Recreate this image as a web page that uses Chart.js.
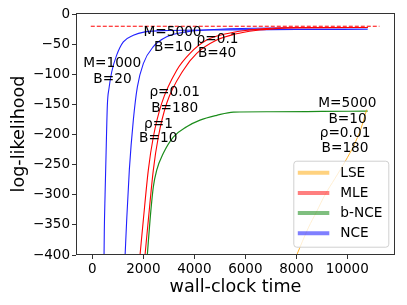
<!DOCTYPE html>
<html>
<head>
<meta charset="utf-8">
<script src="https://cdn.jsdelivr.net/npm/chart.js@4/dist/chart.umd.min.js"></script>
<style>
  html, body { margin: 0; padding: 0; background: #fff; }
  #wrap { width: 407px; height: 305px; position: relative; }
</style>
</head>
<body>
<div id="wrap"><canvas id="c" width="407" height="305"></canvas></div>
<script>
// ---------- data ----------
const xTicks = [0, 2000, 4000, 6000, 8000, 10000];
const yTicks = [0, -50, -100, -150, -200, -250, -300, -350, -400];

// NCE, M=1000 B=20
const nce1T = [460, 470, 500, 540, 590, 655, 760, 955, 1216, 1608, 2066, 3000, 5000, 8000, 10800];
const nce1Y = [-400, -360, -300, -230, -151, -123, -96, -68, -46, -35, -29.3, -27, -26, -25.5, -25];
// NCE, M=5000 B=10
const nce2T = [1286, 1348, 1451, 1608, 1765, 2000, 2392, 2917, 3700, 5000, 7000, 10800];
const nce2Y = [-400, -342, -259, -176, -121, -82, -54, -37.6, -29.3, -25, -23, -22.5];
// MLE, rho=1 B=10
const mle1T = [1871, 2000, 2196, 2392, 2720, 3310, 3830, 4486, 5200, 6000, 6800, 7600, 10800];
const mle1Y = [-400, -342, -259, -204, -148, -93, -65, -43, -33, -27, -24, -22.5, -22];
// MLE, rho=0.01 B=180
const mle2T = [2067, 2196, 2392, 2588, 2917, 3569, 4094, 4878, 5600, 6400, 7200, 8000, 10800];
const mle2Y = [-400, -342, -259, -204, -148, -93, -65, -43, -33, -27, -24, -22.5, -22];
// b-NCE
const bnceT = [2157, 2263, 2392, 2525, 2784, 3176, 3700, 4224, 4878, 5530, 7000, 9000, 10800];
const bnceY = [-400, -342, -287, -259, -231, -204, -187, -176, -168, -162.5, -162, -161.5, -161];
// LSE
const lseT = [8016, 8470, 8800, 9125, 9518, 9910, 10263, 10537, 10760];
const lseY = [-400, -355, -327.6, -300, -272.7, -245, -217.4, -189.7, -158.5];
// reference level (dashed)
const refT = [-60, 11260];
const refY = [-20, -20];

const legendLabels = ['LSE', 'MLE', 'b-NCE', 'NCE'];
const legendColors = ['rgba(255,165,0,0.5)', 'rgba(255,0,0,0.5)', 'rgba(0,128,0,0.5)', 'rgba(0,0,255,0.5)'];

// annotation texts with their data anchors
const annotText = ['M=1000', 'B=20', 'M=5000', 'B=10', 'ρ=0.1', 'B=40', 'ρ=0.01', 'B=180', 'ρ=1', 'B=10',
                   'M=5000', 'B=10', 'ρ=0.01', 'B=180'];
const annotX = [780, 790, 3145, 3165, 4910, 4890, 3231, 3231, 2596, 2584, 10000, 10008, 9910, 9910];
const annotY = [-82, -108, -31, -55.3, -42, -65.2, -130.6, -156.5, -182.6, -206.3, -148.2, -174.3, -198, -222.9];

// ---------- build ----------
const pts = (T, Y) => T.map((t, i) => ({x: t, y: Y[i]}));
const FONT = "'DejaVu Sans', sans-serif";

function line(T, Y, color, w, extra) {
  return Object.assign({
    data: pts(T, Y), borderColor: color, borderWidth: w, pointRadius: 0,
    fill: false, tension: 0.35, cubicInterpolationMode: 'monotone'
  }, extra || {});
}

const datasets = [
  line(refT, refY, '#ff0000', 1, {borderDash: [4, 2], tension: 0}),
  line(lseT, lseY, 'rgba(255,165,0,0.85)', 1),
  line(bnceT, bnceY, '#1a8c1a', 1.2),
  line(mle1T, mle1Y, '#ff0000', 1.1),
  line(mle2T, mle2Y, '#ff0000', 1.1),
  line(nce1T, nce1Y, '#2020ff', 1.1),
  line(nce2T, nce2Y, '#2020ff', 1.1),
];

const framePlugin = {
  id: 'frame',
  afterDatasetsDraw(chart) {
    const {ctx, chartArea: a, scales} = chart;
    ctx.save();
    // spines
    ctx.strokeStyle = '#333';
    ctx.lineWidth = 1;
    ctx.strokeRect(Math.round(a.left) + 0.5, Math.round(a.top) + 0.5,
                   Math.round(a.right - a.left) - 1, Math.round(a.bottom - a.top) - 1);
    // annotations
    ctx.fillStyle = '#000';
    ctx.font = '13.7px ' + FONT;
    ctx.textAlign = 'center';
    ctx.textBaseline = 'middle';
    annotText.forEach((t, i) => {
      ctx.fillText(t, scales.x.getPixelForValue(annotX[i]), scales.y.getPixelForValue(annotY[i]));
    });
    // legend
    const bw = 95, bh = 86;
    const bx = a.right - 6.7 - bw, by = a.bottom - 8.3 - bh;
    ctx.beginPath();
    if (ctx.roundRect) ctx.roundRect(bx + 0.5, by + 0.5, bw, bh, 3); else ctx.rect(bx + 0.5, by + 0.5, bw, bh);
    ctx.fillStyle = 'rgba(255,255,255,0.8)';
    ctx.fill();
    ctx.strokeStyle = '#d0d0d0';
    ctx.lineWidth = 1;
    ctx.stroke();
    ctx.textAlign = 'left';
    legendLabels.forEach((lab, i) => {
      const y = by + 12 + i * 20.2;
      ctx.strokeStyle = legendColors[i];
      ctx.lineWidth = 4;
      ctx.beginPath();
      ctx.moveTo(bx + 4.5, y);
      ctx.lineTo(bx + 36, y);
      ctx.stroke();
      ctx.fillStyle = '#000';
      ctx.fillText(lab, bx + 47, y + 0.5);
    });
    ctx.restore();
  }
};

new Chart(document.getElementById('c'), {
  type: 'line',
  data: {datasets},
  plugins: [framePlugin],
  options: {
    responsive: false,
    animation: false,
    parsing: true,
    layout: {padding: {top: 13, right: 12, left: 0, bottom: 0}},
    plugins: {legend: {display: false}, tooltip: {enabled: false}},
    scales: {
      x: {
        type: 'linear', min: -640, max: 11870,
        afterBuildTicks: s => { s.ticks = xTicks.map(v => ({value: v})); },
        afterFit: s => { s.height = 50; },
        grid: {drawOnChartArea: false, drawTicks: true, tickLength: 4, color: '#333'},
        border: {display: false},
        ticks: {color: '#000', font: {family: FONT, size: 13.5}, padding: 2, maxRotation: 0,
                callback: v => String(v)},
        title: {display: true, text: 'wall-clock time', color: '#000',
                font: {family: FONT, size: 17.6, lineHeight: 1.2}, padding: {top: 0, bottom: 7.4}}
      },
      y: {
        type: 'linear', min: -400, max: 2,
        afterBuildTicks: s => { s.ticks = yTicks.map(v => ({value: v})); },
        afterFit: s => { s.width = 76; },
        grid: {drawOnChartArea: false, drawTicks: true, tickLength: 4, color: '#333'},
        border: {display: false},
        ticks: {color: '#000', font: {family: FONT, size: 13.5}, padding: 2,
                callback: v => (v < 0 ? '\u2212' + Math.abs(v) : String(v))},
        title: {display: true, text: 'log-likelihood', color: '#000',
                font: {family: FONT, size: 17.6, lineHeight: 1.2}, padding: {top: 8.4, bottom: 0}}
      }
    }
  }
});
</script>
</body>
</html>
